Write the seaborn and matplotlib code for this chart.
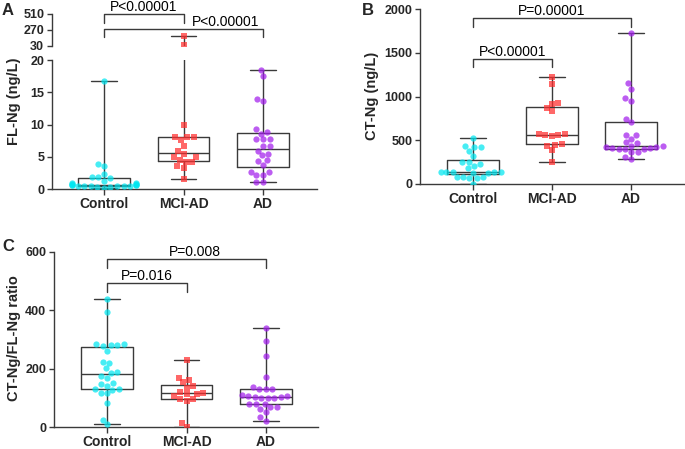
import numpy as np
import pandas as pd
import matplotlib
matplotlib.use("Agg")
import matplotlib.pyplot as plt
import seaborn as sns

groups = ["Control", "MCI-AD", "AD"]
point_colors = {"Control": "#00E6F0", "MCI-AD": "#FF2E2E", "AD": "#A21EEC"}
point_markers = {"Control": "o", "MCI-AD": "s", "AD": "o"}

# FL-Ng (ng/L)
fl_control = [16.8, 3.9, 3.6, 2.3, 1.9, 1.8, 1.7, 1.3, 1.0, 0.9, 0.8, 0.7, 0.62,
              0.6, 0.55, 0.55, 0.5, 0.5, 0.47, 0.45, 0.4, 0.4, 0.35, 0.3, 0.2]
fl_mci = [175, 38, 9.9, 8.1, 8.0, 8.0, 7.6, 6.7, 5.9, 5.4, 5.0, 5.0, 4.5, 4.2,
          4.2, 3.6, 3.3, 1.6]
fl_ad = [18.4, 17.5, 13.9, 13.6, 9.3, 8.9, 8.6, 7.7, 7.7, 7.7, 6.7, 6.6, 5.9,
         5.5, 5.2, 4.5, 4.3, 3.7, 2.7, 2.7, 2.2, 2.2, 1.1, 1.1]

# CT-Ng (ng/L)
ct_control = [522, 434, 419, 419, 377, 320, 255, 255, 229, 210, 179, 141, 141,
              141, 141, 141, 130, 130, 84, 84, 84, 65, 65, 5]
ct_mci = [1227, 1139, 930, 910, 870, 830, 575, 568, 560, 555, 548, 460, 450,
          430, 389, 255]
ct_ad = [1729, 1151, 1086, 983, 952, 746, 705, 565, 555, 511, 478, 470, 440,
         438, 425, 420, 415, 410, 405, 400, 395, 370, 365, 312, 290]

# CT-Ng/FL-Ng ratio
ratio_control = [439, 395, 285, 283, 282, 280, 278, 262, 222, 220, 201, 190, 186,
                 175, 168, 150, 148, 141, 132, 130, 128, 117, 115, 81, 24, 9]
ratio_mci = [230, 169, 161, 153, 140, 135, 121, 118, 113, 113, 106, 97, 97, 90,
             15, 1]
ratio_ad = [339, 296, 244, 170, 138, 129, 129, 129, 110, 108, 106, 104, 102, 98,
            98, 98, 79, 79, 79, 68, 68, 62, 53, 33, 22]

sns.set_style("ticks")
plt.rcParams["font.family"] = ["Liberation Sans", "DejaVu Sans"]
plt.rcParams["font.weight"] = "bold"
line_c = "#3a3a3a"


def make_df(c, m, a):
    return pd.DataFrame({"group": ["Control"] * len(c) + ["MCI-AD"] * len(m) + ["AD"] * len(a),
                         "value": list(c) + list(m) + list(a)})


def draw_points(ax, df):
    for g in groups:
        sub = df[df["group"] == g]
        if len(sub) == 0:
            continue
        sns.swarmplot(data=sub, x="group", y="value", order=groups, color=point_colors[g],
                      marker=point_markers[g], size=4.5, alpha=0.72, linewidth=0, ax=ax)


def draw_boxes(ax, df):
    sns.boxplot(data=df, x="group", y="value", order=groups, whis=(0, 100), width=0.65,
                fill=False, color=line_c, linewidth=1.0, showfliers=False, ax=ax)
    ax.set_xlabel("")
    ax.set_ylabel("")


def style_axis(ax, xlim):
    ax.set_xlim(*xlim)
    for s in ["top", "right"]:
        ax.spines[s].set_visible(False)
    for s in ["left", "bottom"]:
        ax.spines[s].set_color(line_c)
        ax.spines[s].set_linewidth(1.0)
    ax.tick_params(axis="y", labelsize=9, length=3.6, width=1.0, color=line_c, pad=2)
    ax.tick_params(axis="x", labelsize=10, length=4.0, width=1.0, color=line_c, pad=2)


def bracket(ax, x0, x1, y, drop, label, tx=None, off=0.0):
    ax.plot([x0, x0, x1, x1], [y - drop, y, y, y - drop], color=line_c, lw=1.0,
            clip_on=False)
    if tx is None:
        tx = (x0 + x1) / 2
    ax.text(tx, y + off, label, ha="center", va="baseline", fontsize=10,
            fontweight="normal", color="black")


fig = plt.figure(figsize=(6.85, 4.49), dpi=100)
W, H = 685.0, 449.0


def px_axes(x0, x1, ytop, ybot):
    return fig.add_axes([x0 / W, 1 - ybot / H, (x1 - x0) / W, (ybot - ytop) / H])


# ---- panel A (broken axis) ----
df_fl = make_df(fl_control, fl_mci, fl_ad)
xlim_a = (-(104 - 52) / 79.5, 2 + (317 - 263) / 79.5)
axA = px_axes(52, 317, 60, 189)
draw_points(axA, df_fl)
draw_boxes(axA, df_fl)
style_axis(axA, xlim_a)
axA.set_ylim(0, 20)
axA.set_yticks([0, 5, 10, 15, 20])

axA2 = px_axes(52, 317, 14, 46)
draw_points(axA2, df_fl[df_fl["value"] > 25])
draw_boxes(axA2, df_fl)
style_axis(axA2, xlim_a)
axA2.set_ylim(30, 510)
axA2.set_yticks([30, 270, 510])
axA2.spines["bottom"].set_visible(False)
axA2.tick_params(axis="x", bottom=False, labelbottom=False)

bracket(axA2, 0, 1, 510, 135, "P<0.00001", off=40)
bracket(axA2, 0, 2, 285, 120, "P<0.00001", tx=1.53, off=40)

# ---- panel B ----
df_ct = make_df(ct_control, ct_mci, ct_ad)
axB = px_axes(420, 685, 9, 184)
draw_points(axB, df_ct)
draw_boxes(axB, df_ct)
style_axis(axB, (-(473 - 420) / 79, 2 + (685 - 631) / 79))
axB.set_ylim(0, 2000)
axB.set_yticks([0, 500, 1000, 1500, 2000])
bracket(axB, 0, 1, 1429, 92, "P<0.00001", off=30)
bracket(axB, 0, 2, 1897, 103, "P=0.00001", off=30)

# ---- panel C ----
df_ratio = make_df(ratio_control, ratio_mci, ratio_ad)
axC = px_axes(54, 318, 252, 427)
draw_points(axC, df_ratio)
draw_boxes(axC, df_ratio)
style_axis(axC, (-(107 - 54) / 79, 2 + (318 - 266) / 79))
axC.set_ylim(0, 600)
axC.set_yticks([0, 200, 400, 600])
bracket(axC, 0, 1, 494, 31, "P=0.016", off=9)
bracket(axC, 0, 2, 576, 31, "P=0.008", tx=1.11, off=9)

# labels
fig.text(14 / W, 1 - 101 / H, "FL-Ng (ng/L)", rotation=90, ha="center", va="center",
         fontsize=10.5, fontweight="bold")
fig.text(372 / W, 1 - 96 / H, "CT-Ng (ng/L)", rotation=90, ha="center", va="center",
         fontsize=10.5, fontweight="bold")
fig.text(14 / W, 1 - 338 / H, "CT-Ng/FL-Ng ratio", rotation=90, ha="center", va="center",
         fontsize=10.5, fontweight="bold")
fig.text(2 / W, 1 - 3 / H, "A", ha="left", va="top", fontsize=12, fontweight="bold")
fig.text(362 / W, 1 - 3 / H, "B", ha="left", va="top", fontsize=12, fontweight="bold")
fig.text(2 / W, 1 - 239 / H, "C", ha="left", va="top", fontsize=12, fontweight="bold")

fig.savefig("out.png", dpi=100)
